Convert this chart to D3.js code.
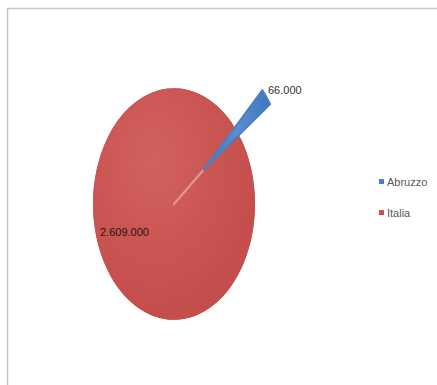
<!DOCTYPE html>
<html>
<head>
<meta charset="utf-8">
<script src="https://cdn.jsdelivr.net/npm/d3@7"></script>
<style>
  html, body { margin: 0; padding: 0; background: #fff; }
  svg { display: block; }
</style>
</head>
<body>
<svg id="chart" width="437" height="385"></svg>
<script>
// Series
const categories = ["Abruzzo", "Italia"];
const values = [66000, 2609000];
const colors = ["#4a7fc4", "#c9504d"];
const exploded = [true, false];

const width = 437, height = 385;
const svg = d3.select("#chart");

// Italian number format: "." as thousands separator
const it = d3.formatLocale({ decimal: ",", thousands: ".", grouping: [3], currency: ["€", ""] });
const fmt = it.format(",.0f");

// Chart frame
svg.append("rect")
  .attr("x", 7.5).attr("y", 8.5)
  .attr("width", 440).attr("height", 390)
  .attr("fill", "none")
  .attr("stroke", "#c6c6c6")
  .attr("stroke-width", 1.5);

// Pie geometry (drawn as a circle, stretched vertically into an ellipse)
const cx = 174, cy = 204, R = 81, yScale = 1.43, explodeBy = 38;
const deg = Math.PI / 180;
const firstSweep = 2 * Math.PI * values[0] / d3.sum(values);
const startAngle = 51 * deg - firstSweep / 2;

const pie = d3.pie().sort(null)
  .startAngle(startAngle)
  .endAngle(startAngle + 2 * Math.PI);
const arcs = pie(values);
const arc = d3.arc().innerRadius(0).outerRadius(R);

const defs = svg.append("defs");
const grad = defs.append("radialGradient")
  .attr("id", "redShade")
  .attr("gradientUnits", "userSpaceOnUse")
  .attr("cx", -20).attr("cy", -30).attr("r", R * 1.3);
grad.append("stop").attr("offset", "0%").attr("stop-color", "#d2615e");
grad.append("stop").attr("offset", "100%").attr("stop-color", "#c44e4b");

const blueGrad = defs.append("linearGradient")
  .attr("id", "blueShade")
  .attr("x1", "0%").attr("y1", "0%").attr("x2", "100%").attr("y2", "0%");
blueGrad.append("stop").attr("offset", "0%").attr("stop-color", "#3f74bb");
blueGrad.append("stop").attr("offset", "50%").attr("stop-color", "#5a8fd2");
blueGrad.append("stop").attr("offset", "100%").attr("stop-color", "#3f74bb");

const g = svg.append("g")
  .attr("transform", `translate(${cx},${cy}) scale(1,${yScale})`);

// Base disc in the Italia colour, so the pulled-out slice leaves only a thin seam
g.append("path")
  .attr("d", arc({ startAngle: 0, endAngle: 2 * Math.PI }))
  .attr("fill", "url(#redShade)");

const slices = g.selectAll("path.slice")
  .data(arcs)
  .join("path")
  .attr("class", "slice")
  .attr("d", arc)
  .attr("fill", (d, i) => i === 1 ? "url(#redShade)" : "url(#blueShade)");

// Seam where the exploded slice was pulled out
const a0 = arcs[0];
const mid0 = (a0.startAngle + a0.endAngle) / 2;
g.append("line")
  .attr("x1", 0).attr("y1", 0)
  .attr("x2", Math.sin(mid0) * explodeBy).attr("y2", -Math.cos(mid0) * explodeBy)
  .attr("stroke", "#e09592")
  .attr("stroke-width", 2)
  .attr("stroke-linecap", "round");

slices.filter((d, i) => exploded[i]).raise()
  .attr("transform", d => {
    const mid = (d.startAngle + d.endAngle) / 2;
    return `translate(${Math.sin(mid) * explodeBy},${-Math.cos(mid) * explodeBy})`;
  })
  .attr("stroke", "#4a7fc4")
  .attr("stroke-width", 1.6)
  .attr("stroke-linejoin", "round");

// Data labels
svg.append("text")
  .attr("x", 268).attr("y", 94)
  .attr("font-family", "Liberation Sans, Arial, sans-serif")
  .attr("font-size", 11)
  .attr("fill", "#333333")
  .text(fmt(values[0]));

svg.append("text")
  .attr("x", 100).attr("y", 236)
  .attr("font-family", "Liberation Sans, Arial, sans-serif")
  .attr("font-size", 11)
  .attr("fill", "#2e0f0f")
  .text(fmt(values[1]));

// Legend
const legend = svg.append("g").attr("transform", "translate(379,182)");
const item = legend.selectAll("g")
  .data(categories)
  .join("g")
  .attr("transform", (d, i) => `translate(0,${i * 31})`);
item.append("rect")
  .attr("x", 0).attr("y", -3)
  .attr("width", 5).attr("height", 5)
  .attr("fill", (d, i) => colors[i]);
item.append("text")
  .attr("x", 8).attr("y", 4)
  .attr("font-family", "Liberation Sans, Arial, sans-serif")
  .attr("font-size", 11)
  .attr("fill", "#595959")
  .text(d => d);
</script>
</body>
</html>
